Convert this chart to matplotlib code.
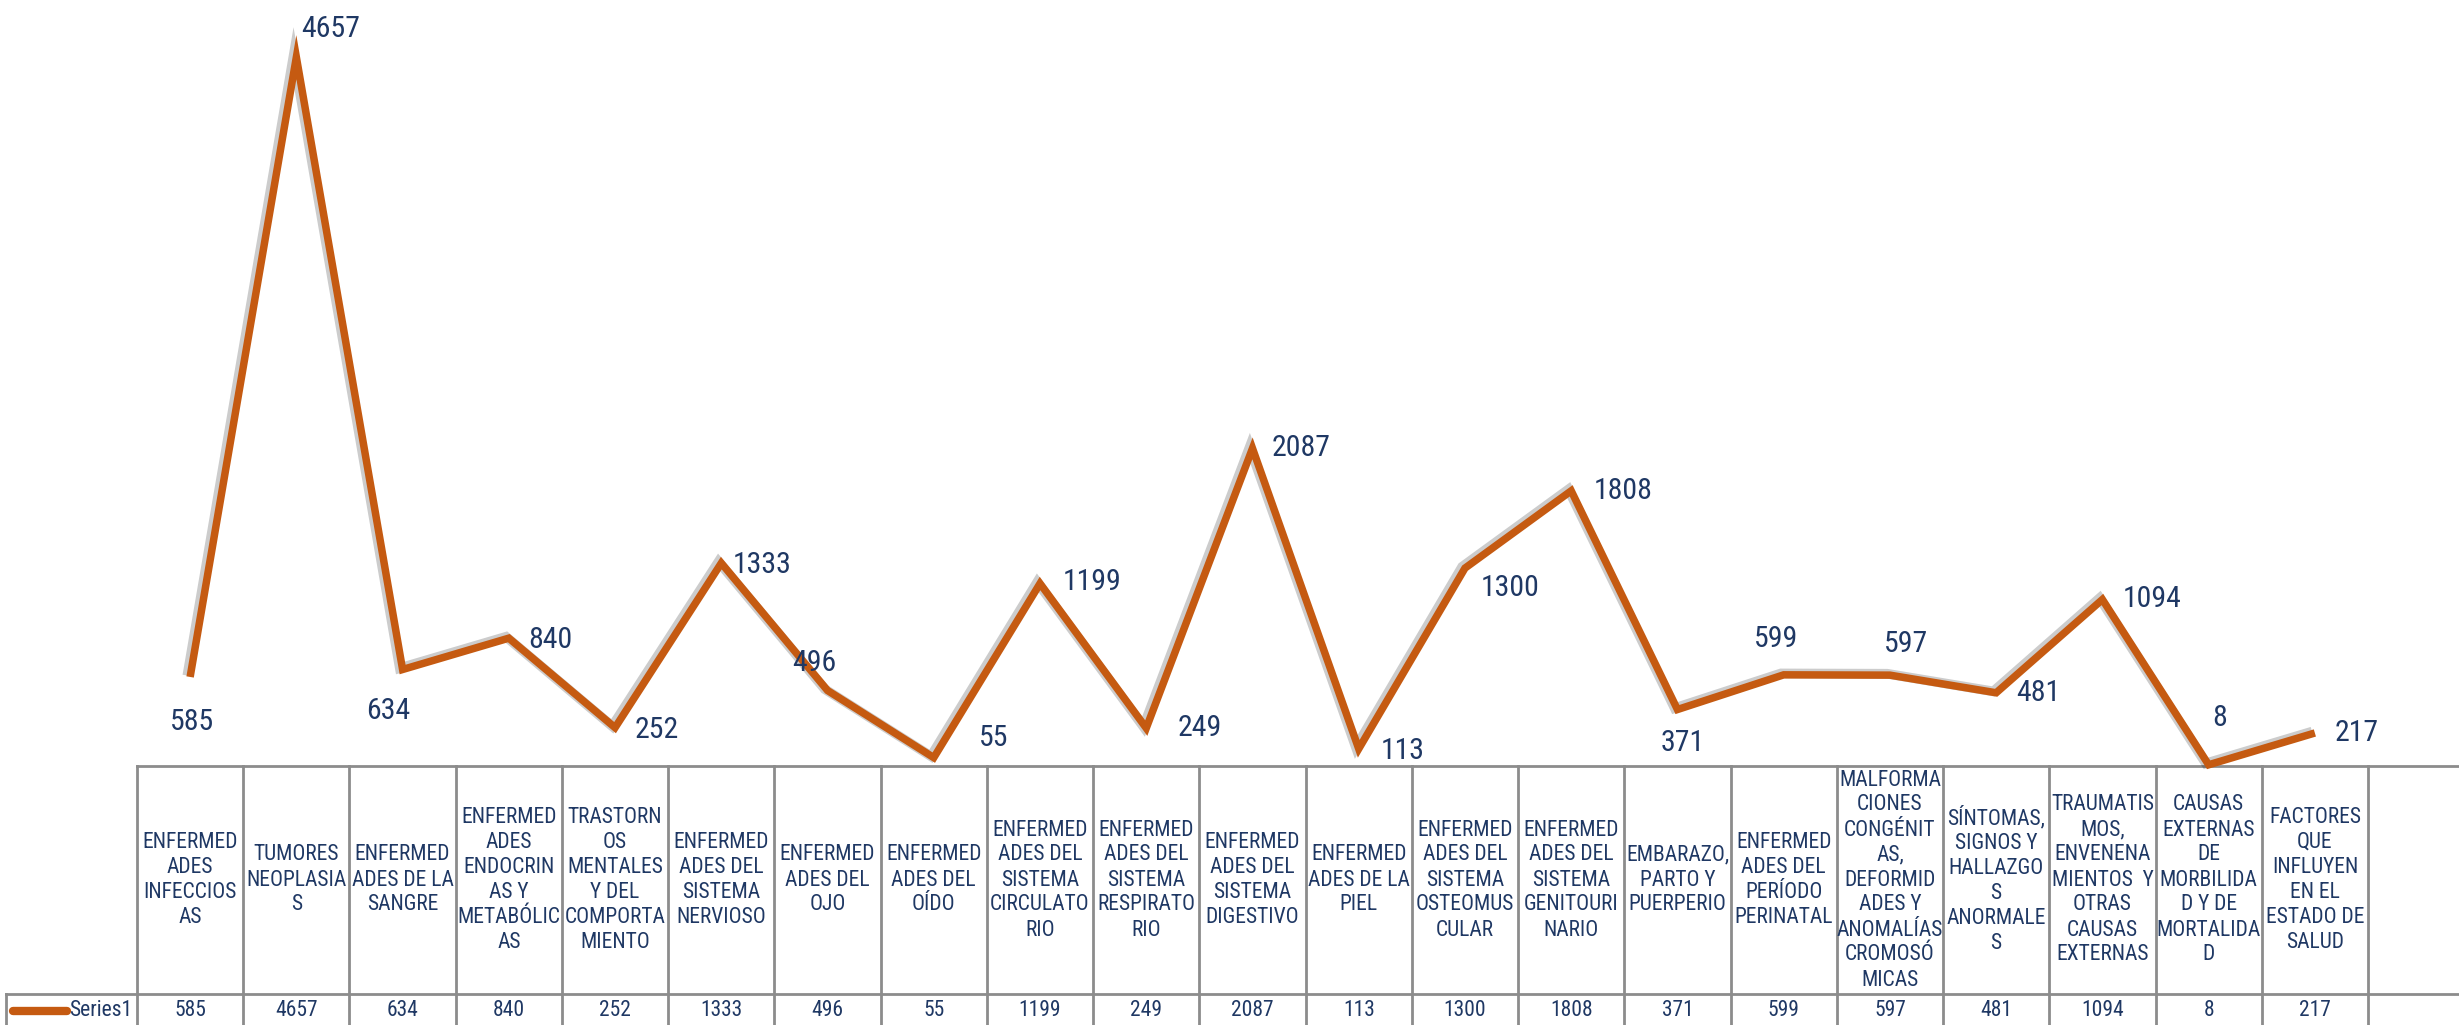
import matplotlib
matplotlib.use("Agg")
import matplotlib.pyplot as plt
import matplotlib.patheffects as pe
import matplotlib.transforms as mtransforms

# Datos
categorias = [
    "ENFERMED\nADES\nINFECCIOS\nAS",
    "TUMORES\nNEOPLASIA\nS",
    "ENFERMED\nADES DE LA\nSANGRE",
    "ENFERMED\nADES\nENDOCRIN\nAS Y\nMETABÓLIC\nAS",
    "TRASTORN\nOS\nMENTALES\nY DEL\nCOMPORTA\nMIENTO",
    "ENFERMED\nADES DEL\nSISTEMA\nNERVIOSO",
    "ENFERMED\nADES DEL\nOJO",
    "ENFERMED\nADES DEL\nOÍDO",
    "ENFERMED\nADES DEL\nSISTEMA\nCIRCULATO\nRIO",
    "ENFERMED\nADES DEL\nSISTEMA\nRESPIRATO\nRIO",
    "ENFERMED\nADES DEL\nSISTEMA\nDIGESTIVO",
    "ENFERMED\nADES DE LA\nPIEL",
    "ENFERMED\nADES DEL\nSISTEMA\nOSTEOMUS\nCULAR",
    "ENFERMED\nADES DEL\nSISTEMA\nGENITOURI\nNARIO",
    "EMBARAZO,\nPARTO Y\nPUERPERIO",
    "ENFERMED\nADES DEL\nPERÍODO\nPERINATAL",
    "MALFORMA\nCIONES\nCONGÉNIT\nAS,\nDEFORMID\nADES Y\nANOMALÍAS\nCROMOSÓ\nMICAS",
    "SÍNTOMAS,\nSIGNOS Y\nHALLAZGO\nS\nANORMALE\nS",
    "TRAUMATIS\nMOS,\nENVENENA\nMIENTOS  Y\nOTRAS\nCAUSAS\nEXTERNAS",
    "CAUSAS\nEXTERNAS\nDE\nMORBILIDA\nD Y DE\nMORTALIDA\nD",
    "FACTORES\nQUE\nINFLUYEN\nEN EL\nESTADO DE\nSALUD",
]
valores = [585, 4657, 634, 840, 252, 1333, 496, 55, 1199, 249, 2087,
           113, 1300, 1808, 371, 599, 597, 481, 1094, 8, 217]
serie = "Series1"

# desplazamiento de las etiquetas (pixeles, y hacia abajo)
desp_etiquetas = [(2, 45), (34, -28), (-14, 41), (42, 2), (42, 2), (41, 2),
                  (-13, -28), (60, -20), (52, -2), (53, 0), (49, 0), (44, 2),
                  (45, 20), (52, 0), (5, 33), (-8, -36), (16, -31), (42, 0),
                  (50, 0), (11, -47), (42, 0)]

plt.rcParams["font.family"] = ["Roboto Condensed", "DejaVu Sans"]

color_linea = "#C55A11"
color_texto = "#1F3864"
color_borde = "#8C8C8C"

W, H = 2459, 1025
fig = plt.figure(figsize=(W / 100, H / 100), dpi=100)

# ejes de la tabla (coordenadas en pixeles)
tab = fig.add_axes([0, 0, 1, 1])
tab.set_xlim(0, W)
tab.set_ylim(H, 0)
tab.axis("off")

izq, der = 137, 2368
arriba, abajo = 5, 766
ax = fig.add_axes([izq / W, 1 - abajo / H, (der - izq) / W, (abajo - arriba) / H])
ax.set_xlim(-0.5, len(valores) - 0.5)
ax.set_ylim(0, 5000)
ax.axis("off")

x = list(range(len(valores)))
ax.plot(x, valores, color=color_linea, lw=5.4, solid_joinstyle="miter",
        solid_capstyle="butt", clip_on=False,
        path_effects=[pe.SimpleLineShadow(offset=(-2, 1), shadow_color="k",
                                          alpha=0.2, linewidth=7),
                      pe.Normal()])

for xi, v, (dx, dy) in zip(x, valores, desp_etiquetas):
    ax.annotate(str(v), (xi, v), xytext=(dx, -dy), textcoords="offset pixels",
                ha="center", va="center", fontsize=21.5, color=color_texto,
                annotation_clip=False)

# tabla de datos
trans = mtransforms.blended_transform_factory(ax.transData, tab.transData)
fila_cab = (766, 994)
fila_val = (994, 1025)

tab.plot([izq, W], [fila_cab[0], fila_cab[0]], color=color_borde, lw=2)
tab.plot([6, W], [fila_val[0], fila_val[0]], color=color_borde, lw=2)
tab.plot([6, 6], [fila_val[0], H], color=color_borde, lw=2)
for k in range(len(valores) + 1):
    tab.plot([k - 0.5, k - 0.5], [fila_cab[0], H], color=color_borde, lw=2,
             transform=trans)

for xi, cat, v in zip(x, categorias, valores):
    tab.text(xi, sum(fila_cab) / 2, cat, transform=trans, ha="center",
             va="center", fontsize=15.5, color=color_texto, linespacing=1.25)
    tab.text(xi, sum(fila_val) / 2 + 1, str(v), transform=trans, ha="center",
             va="center", fontsize=15.5, color=color_texto)

# leyenda
ym = sum(fila_val) / 2 + 1
tab.plot([13, 67], [ym, ym], color=color_linea, lw=6, solid_capstyle="round")
tab.text(132, ym, serie, ha="right", va="center", fontsize=15.5, color=color_texto)

fig.savefig("out.png", dpi=100)
